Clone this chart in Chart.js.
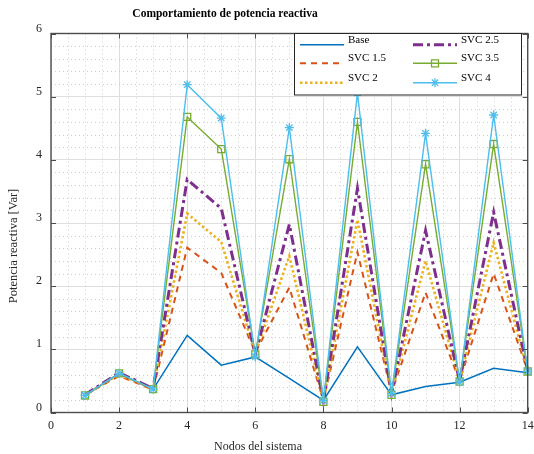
<!DOCTYPE html>
<html lang="es">
<head>
<meta charset="UTF-8">
<title>Comportamiento de potencia reactiva</title>
<style>
  body { margin: 0; background: #fff; }
  canvas { display: block; }
</style>
</head>
<body>
<canvas id="grafico" width="534" height="454"></canvas>
<script src="https://cdn.jsdelivr.net/npm/chart.js"></script>
<script>
// datos
const nodos = [1, 2, 3, 4, 5, 6, 7, 8, 9, 10, 11, 12, 13, 14];
const base  = [0.28, 0.61, 0.37, 1.22, 0.75, 0.88, 0.54, 0.19, 1.04, 0.28, 0.41, 0.48, 0.70, 0.63];
const svc15 = [0.28, 0.58, 0.36, 2.61, 2.21, 0.95, 1.98, 0.19, 2.54, 0.31, 1.90, 0.50, 2.20, 0.66];
const svc2  = [0.28, 0.60, 0.37, 3.15, 2.70, 0.93, 2.48, 0.18, 3.05, 0.30, 2.40, 0.50, 2.69, 0.65];
const svc25 = [0.28, 0.63, 0.38, 3.69, 3.23, 0.92, 2.98, 0.18, 3.55, 0.30, 2.88, 0.50, 3.17, 0.66];
const svc35 = [0.27, 0.62, 0.37, 4.68, 4.17, 0.92, 4.01, 0.17, 4.60, 0.28, 3.93, 0.49, 4.25, 0.65];
const svc4  = [0.27, 0.62, 0.37, 5.19, 4.66, 0.88, 4.51, 0.19, 5.06, 0.30, 4.42, 0.48, 4.71, 0.65];
const ticksX = [0, 2, 4, 6, 8, 10, 12, 14];
const ticksY = [0, 1, 2, 3, 4, 5, 6];

const fuente = 'Liberation Serif, Times New Roman, serif';
const puntos = arr => arr.map((v, i) => ({ x: nodos[i], y: v }));

function serie(label, datos, color, ancho, dash, estilo) {
  return {
    label: label,
    data: puntos(datos),
    borderColor: color,
    borderWidth: ancho,
    borderDash: dash,
    pointStyle: estilo || 'circle',
    pointRadius: estilo ? (estilo === 'rect' ? 5 : 4.5) : 0,
    pointBorderColor: color,
    pointBackgroundColor: 'rgba(0,0,0,0)',
    pointBorderWidth: 1.3,
    tension: 0,
    fill: false,
    clip: false
  };
}

const series = [
  serie('Base', base, '#0072BD', 1.5, []),
  serie('SVC 1.5', svc15, '#D95319', 2, [6, 5]),
  serie('SVC 2', svc2, '#EDB120', 2.6, [2.5, 2.5]),
  serie('SVC 2.5', svc25, '#7E2F8E', 3, [10, 4, 3, 4]),
  serie('SVC 3.5', svc35, '#77AC30', 1.4, [], 'rect'),
  serie('SVC 4', svc4, '#4DBEEE', 1.4, [], 'star')
];
// la primera serie queda abajo, como en matlab
series.forEach((s, i) => { s.order = series.length - i; });

function marcador(ctx, estilo, x, y, color) {
  ctx.save();
  ctx.strokeStyle = color;
  ctx.lineWidth = 1.3;
  ctx.setLineDash([]);
  ctx.beginPath();
  if (estilo === 'rect') {
    ctx.rect(x - 3.5, y - 3.5, 7, 7);
  } else if (estilo === 'star') {
    const r = 4.5, d = r * Math.SQRT1_2;
    ctx.moveTo(x - r, y); ctx.lineTo(x + r, y);
    ctx.moveTo(x, y - r); ctx.lineTo(x, y + r);
    ctx.moveTo(x - d, y - d); ctx.lineTo(x + d, y + d);
    ctx.moveTo(x - d, y + d); ctx.lineTo(x + d, y - d);
  }
  ctx.stroke();
  ctx.restore();
}

const marco = {
  id: 'marco',
  beforeDatasetsDraw(chart) {
    // rejilla menor punteada
    const { ctx, chartArea: a, scales: { x, y } } = chart;
    ctx.save();
    ctx.strokeStyle = '#cccccc';
    ctx.lineWidth = 1;
    ctx.setLineDash([1, 3]);
    ctx.beginPath();
    for (let k = 1; k < 28; k++) {
      if (k % 4 === 0) continue;
      const px = Math.round(x.getPixelForValue(k * 0.5)) + 0.5;
      ctx.moveTo(px, a.top); ctx.lineTo(px, a.bottom);
    }
    for (let k = 1; k < 30; k++) {
      if (k % 5 === 0) continue;
      const py = Math.round(y.getPixelForValue(k * 0.2)) + 0.5;
      ctx.moveTo(a.left, py); ctx.lineTo(a.right, py);
    }
    ctx.stroke();
    ctx.restore();
  },
  afterDatasetsDraw(chart) {
    // caja de ejes con marcas hacia dentro
    const { ctx, chartArea: a, scales: { x, y } } = chart;
    ctx.save();
    ctx.strokeStyle = '#4d4d4d';
    ctx.lineWidth = 1.4;
    ctx.strokeRect(a.left, a.top, a.right - a.left, a.bottom - a.top);
    ctx.lineWidth = 1;
    ctx.beginPath();
    ticksX.forEach(v => {
      const px = Math.round(x.getPixelForValue(v)) + 0.5;
      ctx.moveTo(px, a.bottom); ctx.lineTo(px, a.bottom - 5);
      ctx.moveTo(px, a.top); ctx.lineTo(px, a.top + 5);
    });
    ticksY.forEach(v => {
      const py = Math.round(y.getPixelForValue(v)) + 0.5;
      ctx.moveTo(a.left, py); ctx.lineTo(a.left + 5, py);
      ctx.moveTo(a.right, py); ctx.lineTo(a.right - 5, py);
    });
    ctx.stroke();
    ctx.restore();
  },
  afterDraw(chart) {
    const ctx = chart.ctx;
    ctx.save();
    // titulos
    ctx.fillStyle = '#000';
    ctx.textAlign = 'center';
    ctx.textBaseline = 'middle';
    ctx.font = 'bold 11.5px ' + fuente;
    ctx.fillText('Comportamiento de potencia reactiva', 225, 14);
    ctx.fillStyle = '#262626';
    ctx.font = '12px ' + fuente;
    ctx.fillText('Nodos del sistema', 258, 447);
    ctx.translate(14, 246);
    ctx.rotate(-Math.PI / 2);
    ctx.font = '12.5px ' + fuente;
    ctx.fillText('Potencia reactiva [Var]', 0, 0);
    ctx.restore();

    // leyenda en dos columnas
    ctx.save();
    ctx.fillStyle = '#fff';
    ctx.fillRect(294, 33.5, 227, 61.5);
    ctx.strokeStyle = '#262626';
    ctx.lineWidth = 1;
    ctx.strokeRect(294.5, 33.5, 227, 61.5);
    const filas = [44.7, 63.3, 82.7];
    const cols = [300, 413];
    chart.data.datasets.forEach((ds, i) => {
      const x0 = cols[Math.floor(i / 3)];
      const yy = filas[i % 3];
      ctx.save();
      ctx.strokeStyle = ds.borderColor;
      ctx.lineWidth = ds.borderWidth;
      ctx.setLineDash(ds.borderDash);
      ctx.beginPath();
      ctx.moveTo(x0, yy); ctx.lineTo(x0 + 44, yy);
      ctx.stroke();
      ctx.restore();
      if (ds.pointRadius > 0) marcador(ctx, ds.pointStyle, x0 + 22, yy, ds.borderColor);
      ctx.fillStyle = '#000';
      ctx.font = '11px ' + fuente;
      ctx.textAlign = 'left';
      ctx.textBaseline = 'middle';
      ctx.fillText(ds.label, x0 + 48, yy - 5);
    });
    ctx.restore();
  }
};

new Chart(document.getElementById('grafico'), {
  type: 'line',
  data: { datasets: series },
  options: {
    responsive: false,
    animation: false,
    layout: { padding: { top: 33.5, right: 2.5, left: 0, bottom: 0 } },
    plugins: { legend: { display: false }, tooltip: { enabled: false } },
    scales: {
      x: {
        type: 'linear',
        min: 0,
        max: 14,
        afterBuildTicks: s => { s.ticks = ticksX.map(v => ({ value: v })); },
        afterFit: s => { s.height = 41.5; s.paddingLeft = 0; s.paddingRight = 0; },
        ticks: { color: '#262626', font: { family: fuente, size: 12 }, padding: 6, maxRotation: 0 },
        grid: { color: '#dedede', lineWidth: 1, drawTicks: false },
        border: { display: false }
      },
      y: {
        min: 0,
        max: 6,
        afterBuildTicks: s => { s.ticks = ticksY.map(v => ({ value: v })); },
        afterFit: s => { s.width = 51; s.paddingTop = 0; s.paddingBottom = 0; },
        ticks: { color: '#262626', font: { family: fuente, size: 12 }, padding: 9, labelOffset: -5 },
        grid: { color: '#dedede', lineWidth: 1, drawTicks: false },
        border: { display: false }
      }
    }
  },
  plugins: [marco]
});
</script>
</body>
</html>
